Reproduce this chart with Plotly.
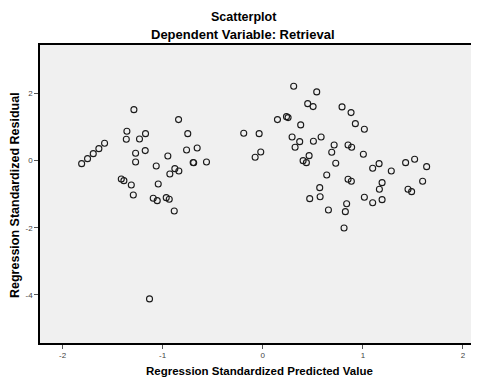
import plotly.graph_objects as go

# Regression Standardized Predicted Value (x) and Residual (y)
pred_left = [-1.287, -0.841, -1.357, -1.171, -0.749, -1.363, -1.231, -1.580, -1.637, -1.693,
             -1.750, -1.809, -1.174, -1.270, -0.761, -0.655, -1.270, -0.948, -0.695, -0.690,
             -0.562, -1.064, -0.878, -0.928, -0.838, -1.413, -1.387, -1.313, -1.044, -1.293,
             -1.094, -1.054, -0.964, -0.934, -0.884, -1.131]
resid_left = [1.522, 1.224, 0.878, 0.806, 0.806, 0.639, 0.648, 0.519, 0.358, 0.209,
              0.060, -0.090, 0.299, 0.221, 0.319, 0.379, -0.039, 0.140, -0.055, -0.062,
              -0.039, -0.158, -0.239, -0.397, -0.307, -0.546, -0.597, -0.725, -0.696, -1.024,
              -1.122, -1.194, -1.104, -1.152, -1.501, -4.125]

pred_mid = [0.309, 0.539, 0.449, 0.503, 0.147, 0.237, 0.253, 0.379, -0.190, -0.036,
            0.293, 0.369, 0.506, 0.583, 0.713, 0.323, 0.689, -0.020, -0.076, 0.463,
            0.403, 0.436, 0.729, 0.639, 0.569, 0.573, 0.469, 0.656]
resid_mid = [2.221, 2.051, 1.701, 1.612, 1.224, 1.313, 1.284, 1.066, 0.818, 0.806,
             0.707, 0.567, 0.579, 0.707, 0.469, 0.400, 0.251, 0.260, 0.101, 0.149,
             0.000, -0.060, -0.078, -0.427, -0.806, -1.075, -1.134, -1.472]

pred_right = [0.792, 0.882, 0.925, 1.015, 0.852, 0.888, 1.005, 1.098, 1.162, 1.284,
              1.427, 1.517, 1.637, 0.852, 0.885, 1.192, 1.165, 1.597, 1.451, 1.487,
              1.015, 1.098, 1.192, 0.838, 0.825, 0.812]
resid_right = [1.603, 1.433, 1.104, 0.937, 0.469, 0.400, 0.191, -0.227, -0.090, -0.307,
               -0.060, 0.042, -0.179, -0.555, -0.615, -0.657, -0.854, -0.615, -0.854, -0.925,
               -1.093, -1.254, -1.164, -1.284, -1.522, -2.009]

predicted = pred_left + pred_mid + pred_right
residual = resid_left + resid_mid + resid_right

x_ticks = [-2, -1, 0, 1, 2]
x_tick_labels = ["-2", "-1", "0", "1", "2"]
y_ticks = [-4, -2, 0, 2]
y_tick_labels = ["-4", "-2", "0", "2"]

FONT = "Liberation Sans, Arial, sans-serif"

# page has an 8px body margin; figure sized to fit the 479x381 window
OFF = 8
W, H = 479 - OFF, 381 - OFF
ML, MT, MB, MR = 32, 37, 38, 0
plot_h = H - MT - MB
plot_w = W - ML - MR


def px_x(page_x):
    return (page_x - OFF - ML) / plot_w


def px_y(page_y):
    return (H - MB - (page_y - OFF)) / plot_h


fig = go.Figure()
fig.add_trace(go.Scatter(
    x=predicted, y=residual, mode="markers",
    marker=dict(symbol="circle-open", size=6, color="#1a1a1a", line=dict(width=1.1, color="#1a1a1a")),
    showlegend=False, hoverinfo="x+y",
))

fig.update_layout(
    width=W, height=H,
    margin=dict(l=ML, r=MR, t=MT, b=MB, pad=0),
    paper_bgcolor="white",
    plot_bgcolor="#f0f0f0",
    font=dict(family=FONT, color="#000000"),
    xaxis=dict(
        range=[-2.225, 2.16], showgrid=False, zeroline=False,
        showline=True, linecolor="black", linewidth=1.5, mirror=True,
        tickvals=x_ticks, ticktext=x_tick_labels,
        ticks="outside", ticklen=4, tickcolor="#555555", tickwidth=1,
        tickfont=dict(size=8, color="#444444", family=FONT),
    ),
    yaxis=dict(
        range=[-5.44, 3.45], showgrid=False, zeroline=False,
        showline=True, linecolor="black", linewidth=1.5,
        tickvals=y_ticks, ticktext=y_tick_labels,
        ticks="outside", ticklen=4, tickcolor="#555555", tickwidth=1,
        tickfont=dict(size=8, color="#444444", family=FONT),
    ),
    annotations=[
        dict(text="<b>Scatterplot</b>", x=px_x(243.5), y=px_y(16.5),
             xref="paper", yref="paper", xanchor="center", yanchor="middle", borderpad=0,
             showarrow=False, font=dict(size=12.5, family=FONT, color="black")),
        dict(text="<b>Dependent Variable: Retrieval</b>", x=px_x(242.5), y=px_y(34),
             xref="paper", yref="paper", xanchor="center", yanchor="middle", borderpad=0,
             showarrow=False, font=dict(size=13, family=FONT, color="black")),
        dict(text="<b>Regression Standardized Predicted Value</b>", x=px_x(259.5), y=px_y(371),
             xref="paper", yref="paper", xanchor="center", yanchor="middle", borderpad=0,
             showarrow=False, font=dict(size=11.5, family=FONT, color="black")),
        dict(text="<b>Regression Standardized Residual</b>", x=px_x(15), y=px_y(195),
             xref="paper", yref="paper", xanchor="center", yanchor="middle", textangle=-90,
             borderpad=0, showarrow=False, font=dict(size=12.5, family=FONT, color="black")),
    ],
)

fig.write_html("out.html")
